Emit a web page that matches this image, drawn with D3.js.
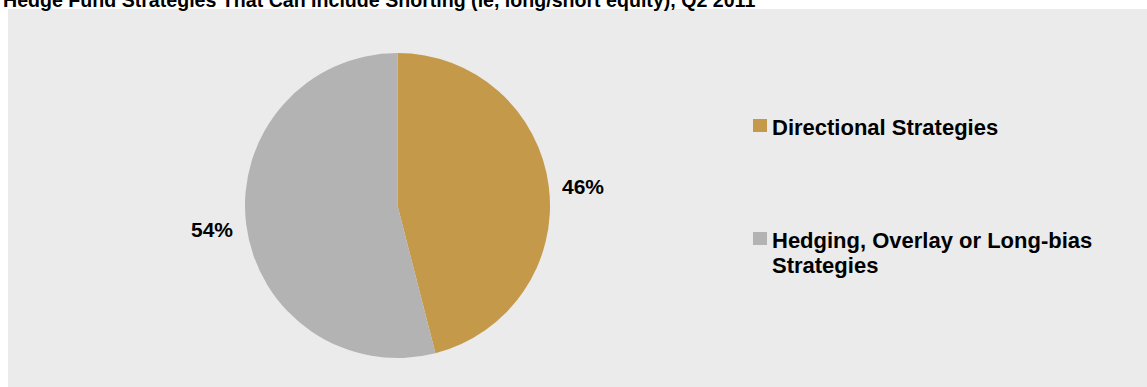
<!DOCTYPE html>
<html>
<head>
<meta charset="utf-8">
<script src="https://cdn.jsdelivr.net/npm/d3@7"></script>
<style>
  html, body { margin: 0; padding: 0; background: #ffffff; }
  svg { display: block; font-family: "Liberation Sans", Arial, sans-serif; }
</style>
</head>
<body>
<svg id="chart" width="1147" height="387"></svg>
<script>
// Share of hedge fund strategies that can include shorting, Q2 2011
const categories = ["Directional Strategies", "Hedging, Overlay or Long-bias Strategies"];
const legendLines = [["Directional Strategies"], ["Hedging, Overlay or Long-bias", "Strategies"]];
const shares = [46, 54];
const sliceColors = ["#C4994A", "#B3B3B3"];
const titleText = "Hedge Fund Strategies That Can Include Shorting (ie, long/short equity), Q2 2011";

const svg = d3.select("#chart");

// panel background
svg.append("rect")
  .attr("x", 8).attr("y", 9)
  .attr("width", 1147 - 8).attr("height", 387 - 9)
  .attr("fill", "#EBEBEB");

// title (partly above the top edge)
svg.append("text")
  .attr("x", 3).attr("y", 7)
  .attr("font-size", 19.6)
  .attr("font-weight", "bold")
  .attr("fill", "#000")
  .text(titleText);

const cx = 397.5, cy = 205.5, r = 152.5;

const pie = d3.pie().sort(null).value(d => d)
  .startAngle(0).endAngle(2 * Math.PI);
const arcs = pie(shares);

const arc = d3.arc().innerRadius(0).outerRadius(r);
const labelArc = d3.arc().innerRadius(187).outerRadius(187);

const color = d3.scaleOrdinal().domain(categories).range(sliceColors);

const g = svg.append("g").attr("transform", `translate(${cx},${cy})`);

g.selectAll("path.slice")
  .data(arcs)
  .join("path")
  .attr("class", "slice")
  .attr("d", arc)
  .attr("fill", (d, i) => color(categories[i]));

g.selectAll("text.pct")
  .data(arcs)
  .join("text")
  .attr("class", "pct")
  .attr("x", d => labelArc.centroid(d)[0])
  .attr("y", d => labelArc.centroid(d)[1])
  .attr("dy", (d, i) => i === 0 ? "0.55em" : "0.38em")
  .attr("text-anchor", "middle")
  .attr("font-size", 21)
  .attr("font-weight", "bold")
  .attr("fill", "#000")
  .text(d => d.data + "%");

// legend
const legendY = [119, 232];
const legend = svg.append("g");
categories.forEach((c, i) => {
  legend.append("rect")
    .attr("x", 753).attr("y", legendY[i])
    .attr("width", 14).attr("height", 13)
    .attr("fill", color(c));
  const t = legend.append("text")
    .attr("x", 772)
    .attr("y", legendY[i] + 16)
    .attr("font-size", 22)
    .attr("font-weight", "bold")
    .attr("fill", "#000");
  legendLines[i].forEach((line, j) => {
    t.append("tspan")
      .attr("x", 772)
      .attr("dy", j === 0 ? 0 : 24.5)
      .text(line);
  });
});
</script>
</body>
</html>
